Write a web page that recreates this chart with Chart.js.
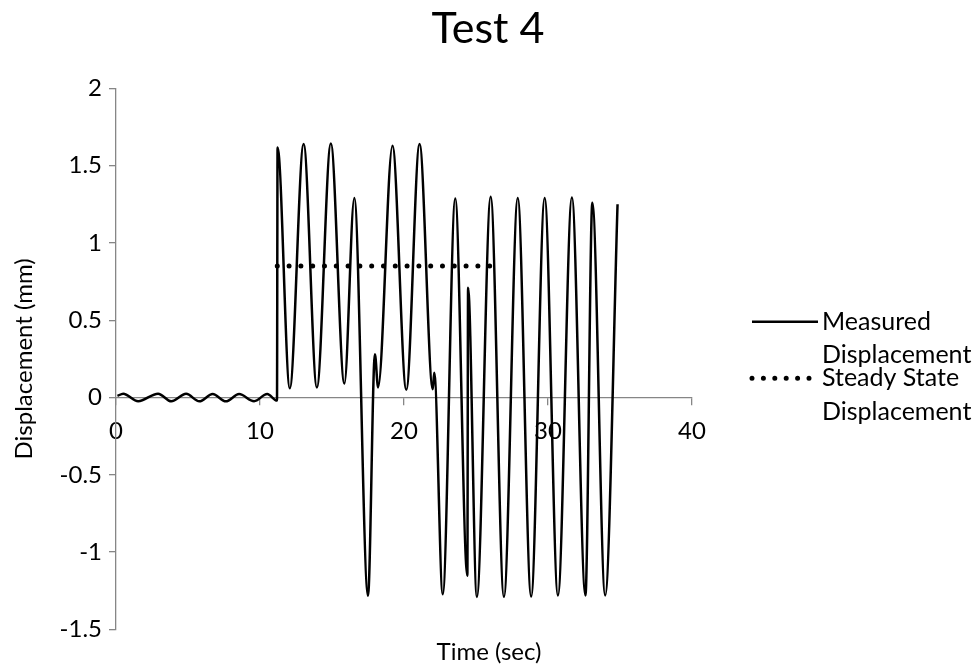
<!DOCTYPE html>
<html>
<head>
<meta charset="utf-8">
<title>Test 4</title>
<script src="https://cdn.jsdelivr.net/npm/chart.js@4.4.1/dist/chart.umd.min.js"></script>
<style>
  html, body { margin: 0; padding: 0; background: #fff; }
</style>
</head>
<body>
<canvas id="myChart" width="980" height="665"></canvas>
<script>
'use strict';

// measured displacement (sec / mm)
const measuredTime = [
  0.1, 0.5, 1.54, 2.92, 3.84, 4.87, 5.79, 6.71, 7.63, 8.55, 9.59, 10.5, 11.18,
  11.22, 12.07, 13.03, 13.95, 14.92, 15.86, 16.55, 17.5, 17.98, 18.2,
  19.2, 20.16, 21.08, 22.0, 22.1, 22.69, 23.56, 24.4, 24.45, 25.06,
  26.02, 26.94, 27.9, 28.83, 29.77, 30.69, 31.66, 32.6, 33.08, 33.97, 34.83
];
const measuredMm = [
  0.01, 0.025, -0.024, 0.025, -0.025, 0.024, -0.025, 0.022, -0.025, 0.022, -0.024, 0.022, -0.02,
  1.617, 0.06, 1.64, 0.065, 1.643, 0.09, 1.29, -1.283, 0.28, 0.065,
  1.628, 0.05, 1.64, 0.054, 0.16, -1.272, 1.287, -1.153, 0.71, -1.29,
  1.298, -1.289, 1.29, -1.287, 1.29, -1.28, 1.294, -1.28, 1.26, -1.28, 1.25
];

// steady state displacement
const steadyTime = [11.2, 26.0];
const steadyMm = [0.85, 0.85];

const xTicks = [0, 10, 20, 30, 40];
const yTicks = [-1.5, -1, -0.5, 0, 0.5, 1, 1.5, 2];

const seriesNames = [['Measured', 'Displacement'], ['Steady State', 'Displacement']];

const FONT = 'Lato, "Open Sans", sans-serif';
const AXIS_GREY = '#868686';

function toPoints(xs, ys) {
  let pts = [];
  for (let i = 0; i < xs.length; i++) {
    pts.push({ x: xs[i], y: ys[i] });
  }
  return pts;
}

// chart title, x axis title and the legend on the right
const extrasPlugin = {
  id: 'extras',
  afterDraw(chart) {
    const c = chart.ctx;
    c.save();
    c.fillStyle = '#000';
    c.textBaseline = 'middle';
    c.textAlign = 'center';

    c.font = '43px ' + FONT;
    c.fillText('Test 4', 488, 29);

    c.font = '24px ' + FONT;
    c.fillText('Time (sec)', 489, 652);

    // legend
    c.font = '25px ' + FONT;
    c.textAlign = 'left';
    const rows = [321.7, 378.3];
    c.strokeStyle = '#000';
    for (let i = 0; i < rows.length; i++) {
      const y = rows[i];
      c.beginPath();
      if (i === 0) {
        c.lineWidth = 2.5;
        c.setLineDash([]);
        c.lineCap = 'butt';
      } else {
        c.lineWidth = 5;
        c.setLineDash([0, 11.4]);
        c.lineCap = 'round';
      }
      c.moveTo(752, y);
      c.lineTo(818, y);
      c.stroke();
      c.fillText(seriesNames[i][0], 822, y);
      c.fillText(seriesNames[i][1], 822, y + 33.3);
    }
    c.restore();
  }
};

const ctx = document.getElementById('myChart');

new Chart(ctx, {
  type: 'line',
  data: {
    datasets: [{
      label: seriesNames[0].join(' '),
      data: toPoints(measuredTime, measuredMm),
      borderColor: '#000',
      borderWidth: 2.5,
      pointRadius: 0,
      cubicInterpolationMode: 'monotone',
      fill: false
    }, {
      label: seriesNames[1].join(' '),
      data: toPoints(steadyTime, steadyMm),
      borderColor: '#000',
      borderWidth: 5,
      borderDash: [0, 11.8],
      borderCapStyle: 'round',
      pointRadius: 0,
      fill: false
    }]
  },
  options: {
    responsive: false,
    animation: false,
    devicePixelRatio: 1,
    layout: {
      padding: { top: 88.3, right: 288, bottom: 35.6, left: 0 }
    },
    plugins: {
      legend: { display: false },
      tooltip: { enabled: false },
      title: { display: false }
    },
    scales: {
      x: {
        type: 'linear',
        position: { y: 0 },
        min: 0,
        max: 40,
        afterBuildTicks(scale) {
          scale.ticks = xTicks.map(v => ({ value: v }));
        },
        ticks: {
          color: '#000',
          font: { family: FONT, size: 24 },
          padding: 12,
          maxRotation: 0,
          callback: v => String(v)
        },
        grid: {
          drawOnChartArea: false,
          drawTicks: true,
          tickLength: 7,
          color: AXIS_GREY,
          lineWidth: 1.3
        },
        border: { display: true, color: AXIS_GREY, width: 1.3 }
      },
      y: {
        type: 'linear',
        position: 'left',
        min: -1.5,
        max: 2,
        afterBuildTicks(scale) {
          scale.ticks = yTicks.map(v => ({ value: v }));
        },
        afterFit(scale) {
          scale.width = 116;
        },
        ticks: {
          color: '#000',
          font: { family: FONT, size: 24 },
          padding: 7,
          callback: v => String(v)
        },
        grid: {
          drawOnChartArea: false,
          drawTicks: true,
          tickLength: 7,
          color: AXIS_GREY,
          lineWidth: 1.3
        },
        border: { display: true, color: AXIS_GREY, width: 1.3 },
        title: {
          display: true,
          text: 'Displacement (mm)',
          color: '#000',
          font: { family: FONT, size: 24 },
          padding: { top: 10, bottom: 0 }
        }
      }
    }
  },
  plugins: [extrasPlugin]
});
</script>
</body>
</html>
